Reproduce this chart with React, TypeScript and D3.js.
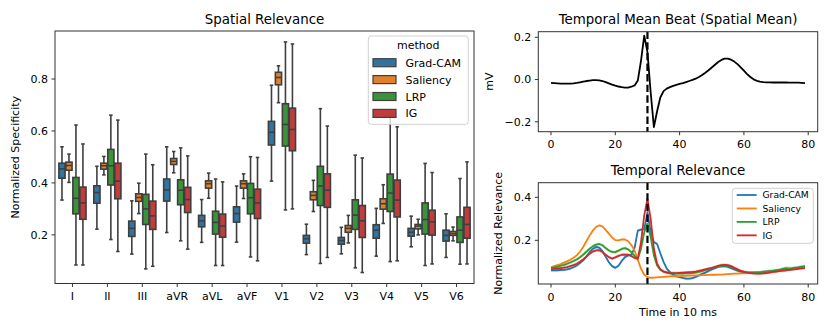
import React from "react";
import * as d3 from "d3";

const leads = ["I", "II", "III", "aVR", "aVL", "aVF", "V1", "V2", "V3", "V4", "V5", "V6"];
const methods = ["Grad-CAM", "Saliency", "LRP", "IG"];

// [whisker low, q1, median, q3, whisker high] per lead
const gradcamStats = [
  [0.334, 0.418, 0.454, 0.476, 0.539],
  [0.222, 0.322, 0.363, 0.389, 0.464],
  [0.126, 0.194, 0.225, 0.253, 0.331],
  [0.209, 0.330, 0.373, 0.415, 0.539],
  [0.171, 0.231, 0.254, 0.275, 0.336],
  [0.172, 0.249, 0.282, 0.308, 0.388],
  [0.407, 0.546, 0.595, 0.637, 0.776],
  [0.124, 0.168, 0.185, 0.198, 0.241],
  [0.127, 0.164, 0.178, 0.190, 0.229],
  [0.118, 0.187, 0.218, 0.239, 0.302],
  [0.154, 0.195, 0.210, 0.225, 0.272],
  [0.113, 0.176, 0.198, 0.218, 0.281],
];
const saliencyStats = [
  [0.402, 0.449, 0.467, 0.480, 0.511],
  [0.431, 0.453, 0.466, 0.476, 0.502],
  [0.282, 0.329, 0.344, 0.358, 0.399],
  [0.439, 0.471, 0.483, 0.494, 0.521],
  [0.341, 0.380, 0.397, 0.408, 0.438],
  [0.340, 0.380, 0.397, 0.408, 0.435],
  [0.709, 0.778, 0.806, 0.826, 0.851],
  [0.290, 0.335, 0.352, 0.366, 0.410],
  [0.169, 0.210, 0.225, 0.236, 0.275],
  [0.244, 0.299, 0.320, 0.339, 0.393],
  [0.200, 0.223, 0.234, 0.240, 0.260],
  [0.177, 0.198, 0.205, 0.213, 0.230],
];
const lrpStats = [
  [0.084, 0.281, 0.341, 0.421, 0.623],
  [0.182, 0.392, 0.466, 0.529, 0.661],
  [0.069, 0.240, 0.300, 0.356, 0.511],
  [0.177, 0.316, 0.372, 0.412, 0.535],
  [0.082, 0.203, 0.248, 0.291, 0.415],
  [0.115, 0.281, 0.343, 0.398, 0.501],
  [0.296, 0.542, 0.625, 0.705, 0.943],
  [0.090, 0.313, 0.388, 0.464, 0.686],
  [0.073, 0.221, 0.276, 0.335, 0.507],
  [0.097, 0.290, 0.361, 0.434, 0.670],
  [0.082, 0.203, 0.259, 0.323, 0.475],
  [0.087, 0.171, 0.218, 0.269, 0.417],
];
const igStats = [
  [0.084, 0.260, 0.323, 0.384, 0.550],
  [0.136, 0.339, 0.407, 0.476, 0.642],
  [0.079, 0.221, 0.273, 0.330, 0.470],
  [0.145, 0.286, 0.336, 0.383, 0.504],
  [0.082, 0.191, 0.234, 0.280, 0.404],
  [0.100, 0.263, 0.323, 0.376, 0.498],
  [0.300, 0.524, 0.606, 0.688, 0.935],
  [0.113, 0.306, 0.372, 0.435, 0.619],
  [0.055, 0.190, 0.254, 0.313, 0.496],
  [0.100, 0.269, 0.334, 0.411, 0.616],
  [0.088, 0.199, 0.250, 0.295, 0.440],
  [0.088, 0.187, 0.240, 0.306, 0.481],
];
const spatialTicks = [0.2, 0.4, 0.6, 0.8];

// Mean beat (mV), one sample per 10 ms
const meanBeat = [
  -0.016, -0.017, -0.018, -0.019, -0.019, -0.019, -0.019, -0.018, -0.016, -0.013,
  -0.010, -0.007, -0.005, -0.003, -0.003, -0.004, -0.007, -0.012, -0.018, -0.024,
  -0.029, -0.033, -0.036, -0.038, -0.038, -0.034, -0.028, -0.005, 0.090, 0.208,
  0.130, -0.060, -0.225, -0.150, -0.085, -0.055, -0.043, -0.036, -0.030, -0.025,
  -0.021, -0.017, -0.012, -0.007, -0.002, 0.004, 0.012, 0.021, 0.032, 0.044,
  0.057, 0.070, 0.083, 0.093, 0.099, 0.099, 0.094, 0.085, 0.073, 0.058,
  0.042, 0.026, 0.012, 0.001, -0.006, -0.010, -0.012, -0.013, -0.013, -0.014,
  -0.014, -0.014, -0.014, -0.014, -0.015, -0.015, -0.015, -0.015, -0.016, -0.017,
];

const gradcamTemporal = [
  0.060, 0.060, 0.061, 0.062, 0.063, 0.065, 0.069, 0.075, 0.083, 0.094,
  0.107, 0.125, 0.145, 0.160, 0.169, 0.166, 0.150, 0.124, 0.098, 0.080,
  0.072, 0.082, 0.104, 0.122, 0.130, 0.134, 0.165, 0.245, 0.250, 0.252,
  0.330, 0.238, 0.192, 0.183, 0.140, 0.100, 0.068, 0.052, 0.040, 0.033,
  0.029, 0.025, 0.022, 0.022, 0.024, 0.030, 0.037, 0.044, 0.050, 0.058,
  0.065, 0.071, 0.077, 0.079, 0.080, 0.077, 0.071, 0.065, 0.059, 0.054,
  0.051, 0.050, 0.050, 0.050, 0.051, 0.052, 0.054, 0.055, 0.057, 0.058,
  0.060, 0.061, 0.062, 0.063, 0.064, 0.065, 0.067, 0.070, 0.073, 0.076,
];
const saliencyTemporal = [
  0.076, 0.080, 0.085, 0.090, 0.096, 0.102, 0.110, 0.119, 0.130, 0.147,
  0.169, 0.196, 0.223, 0.245, 0.262, 0.270, 0.265, 0.249, 0.231, 0.213,
  0.201, 0.200, 0.204, 0.204, 0.196, 0.178, 0.153, 0.110, 0.068, 0.040,
  0.029, 0.026, 0.027, 0.028, 0.029, 0.030, 0.031, 0.032, 0.033, 0.033,
  0.034, 0.035, 0.035, 0.036, 0.036, 0.037, 0.037, 0.038, 0.038, 0.039,
  0.040, 0.040, 0.041, 0.041, 0.042, 0.043, 0.044, 0.045, 0.045, 0.046,
  0.047, 0.048, 0.049, 0.050, 0.051, 0.052, 0.053, 0.054, 0.055, 0.055,
  0.056, 0.058, 0.059, 0.061, 0.063, 0.066, 0.069, 0.072, 0.075, 0.078,
];
const lrpTemporal = [
  0.071, 0.074, 0.078, 0.082, 0.086, 0.091, 0.097, 0.104, 0.111, 0.121,
  0.133, 0.147, 0.161, 0.172, 0.180, 0.183, 0.177, 0.164, 0.153, 0.146,
  0.145, 0.152, 0.160, 0.164, 0.158, 0.145, 0.128, 0.115, 0.160, 0.238,
  0.278, 0.215, 0.130, 0.083, 0.063, 0.055, 0.050, 0.047, 0.046, 0.045,
  0.045, 0.045, 0.046, 0.047, 0.048, 0.050, 0.053, 0.057, 0.062, 0.067,
  0.071, 0.075, 0.079, 0.082, 0.083, 0.081, 0.076, 0.069, 0.062, 0.057,
  0.053, 0.051, 0.050, 0.050, 0.050, 0.050, 0.052, 0.054, 0.056, 0.058,
  0.060, 0.063, 0.067, 0.071, 0.070, 0.071, 0.073, 0.075, 0.078, 0.080,
];
const igTemporal = [
  0.065, 0.067, 0.069, 0.071, 0.073, 0.076, 0.080, 0.085, 0.091, 0.100,
  0.111, 0.124, 0.138, 0.148, 0.153, 0.154, 0.146, 0.133, 0.122, 0.115,
  0.121, 0.128, 0.133, 0.134, 0.133, 0.127, 0.118, 0.114, 0.192, 0.316,
  0.393, 0.300, 0.161, 0.091, 0.065, 0.055, 0.051, 0.049, 0.048, 0.048,
  0.049, 0.050, 0.051, 0.052, 0.053, 0.055, 0.058, 0.061, 0.065, 0.068,
  0.071, 0.076, 0.081, 0.085, 0.086, 0.085, 0.080, 0.072, 0.065, 0.058,
  0.053, 0.050, 0.048, 0.046, 0.045, 0.045, 0.046, 0.048, 0.050, 0.053,
  0.055, 0.057, 0.059, 0.061, 0.063, 0.065, 0.066, 0.068, 0.070, 0.071,
];
const temporalCI = [0.007, 0.004, 0.008, 0.007];
const rPeakIndex = 30;
const timeTicks = [0, 20, 40, 60, 80];
const beatTicks = [-0.2, 0.0, 0.2];
const relevanceTicks = [0.2, 0.4];

const boxColors = ["#3274a1", "#e1812c", "#3a923a", "#c03d3e"];
const lineColors = ["#1f77b4", "#ff7f0e", "#2ca02c", "#d62728"];
const EDGE = "#3f3f3f";
const SPINE = "#333";
const FONT = "DejaVu Sans, sans-serif";

const fmt1 = (v: number) => (v < 0 ? "\u2212" + Math.abs(v).toFixed(1) : v.toFixed(1));

export default function App() {
  const allStats = [gradcamStats, saliencyStats, lrpStats, igStats];
  const temporal = [gradcamTemporal, saliencyTemporal, lrpTemporal, igTemporal];

  // Left panel
  const L = { x0: 55, x1: 474, y0: 31, y1: 283.5 };
  const xb = d3.scaleBand<string>().domain(leads).range([L.x0, L.x1]).padding(0);
  const ys = d3.scaleLinear().domain([0.0127, 0.985]).range([L.y1, L.y0]);
  const bw = xb.bandwidth();
  const boxW = bw * 0.2;

  // Right panels
  const R = { x0: 538.3, x1: 817.7 };
  const T = { y0: 31.7, y1: 131.7 };
  const B = { y0: 182.7, y1: 284 };
  const xt = d3.scaleLinear().domain([-3.95, 82.95]).range([R.x0, R.x1]);
  const yBeat = d3.scaleLinear().domain([-0.247, 0.2265]).range([T.y1, T.y0]);
  const yRel = d3.scaleLinear().domain([-0.003, 0.468]).range([B.y1, B.y0]);

  const beatLine = d3
    .line<number>()
    .x((_, i) => xt(i))
    .y((d) => yBeat(d))(meanBeat) as string;

  return (
    <svg
      width={830}
      height={332}
      style={{ position: "absolute", left: 0, top: 0, background: "#fff" }}
      fontFamily={FONT}
    >
      <rect width={830} height={332} fill="#fff" />
      {/* ===== Left: Spatial Relevance ===== */}
      <text x={(L.x0 + L.x1) / 2} y={24} textAnchor="middle" fontSize={13.4} fill="#000">
        Spatial Relevance
      </text>
      {spatialTicks.map((t) => (
        <g key={t}>
          <line x1={L.x0 - 3.5} x2={L.x0} y1={ys(t)} y2={ys(t)} stroke={SPINE} strokeWidth={1} />
          <text x={L.x0 - 7} y={ys(t) + 3.9} textAnchor="end" fontSize={11} fill="#000">
            {t.toFixed(1)}
          </text>
        </g>
      ))}
      <text
        transform={`translate(${18.5},${(L.y0 + L.y1) / 2}) rotate(-90)`}
        textAnchor="middle"
        fontSize={11}
        fill="#000"
      >
        Normalized Specificity
      </text>
      {leads.map((ld) => {
        const cx = (xb(ld) as number) + bw / 2;
        return (
          <g key={ld}>
            <line x1={cx} x2={cx} y1={L.y1} y2={L.y1 + 3.5} stroke={SPINE} strokeWidth={1} />
            <text x={cx} y={L.y1 + 16.5} textAnchor="middle" fontSize={11} fill="#000">
              {ld}
            </text>
          </g>
        );
      })}
      {allStats.map((stats, m) =>
        leads.map((ld, li) => {
          const [lo, q1, med, q3, hi] = stats[li];
          const cx = (xb(ld) as number) + bw / 2 + (m - 1.5) * boxW;
          const capW = boxW * 0.5;
          return (
            <g key={m + "-" + ld}>
              <line x1={cx} x2={cx} y1={ys(hi)} y2={ys(q3)} stroke={EDGE} strokeWidth={1.6} />
              <line x1={cx} x2={cx} y1={ys(q1)} y2={ys(lo)} stroke={EDGE} strokeWidth={1.6} />
              <line x1={cx - capW / 2} x2={cx + capW / 2} y1={ys(hi)} y2={ys(hi)} stroke={EDGE} strokeWidth={1.6} />
              <line x1={cx - capW / 2} x2={cx + capW / 2} y1={ys(lo)} y2={ys(lo)} stroke={EDGE} strokeWidth={1.6} />
              <rect
                x={cx - boxW / 2 + 0.4}
                y={ys(q3)}
                width={boxW - 0.8}
                height={ys(q1) - ys(q3)}
                fill={boxColors[m]}
                stroke={EDGE}
                strokeWidth={1.6}
              />
              <line
                x1={cx - boxW / 2 + 0.4}
                x2={cx + boxW / 2 - 0.4}
                y1={ys(med)}
                y2={ys(med)}
                stroke={EDGE}
                strokeWidth={1.6}
              />
            </g>
          );
        })
      )}
      <rect x={L.x0} y={L.y0} width={L.x1 - L.x0} height={L.y1 - L.y0} fill="none" stroke={SPINE} strokeWidth={1} />
      {/* left legend */}
      <g>
        <rect x={368.3} y={36} width={100} height={88.3} rx={3} fill="#fff" fillOpacity={0.8} stroke="#d0d0d0" strokeWidth={1} />
        <text x={418.3} y={49.3} textAnchor="middle" fontSize={11} fill="#000">
          method
        </text>
        {methods.map((mname, i) => {
          const cy = 62.7 + i * 16.9;
          return (
            <g key={mname}>
              <rect x={373} y={cy - 4} width={23} height={8} fill={boxColors[i]} stroke={EDGE} strokeWidth={1.2} />
              <text x={405.5} y={cy + 4} fontSize={11} fill="#000">
                {mname}
              </text>
            </g>
          );
        })}
      </g>

      {/* ===== Top right: mean beat ===== */}
      <text x={(R.x0 + R.x1) / 2} y={24} textAnchor="middle" fontSize={13.4} fill="#000">
        Temporal Mean Beat (Spatial Mean)
      </text>
      {beatTicks.map((t) => (
        <g key={t}>
          <line x1={R.x0 - 3.5} x2={R.x0} y1={yBeat(t)} y2={yBeat(t)} stroke={SPINE} strokeWidth={1} />
          <text x={R.x0 - 7} y={yBeat(t) + 3.9} textAnchor="end" fontSize={11} fill="#000">
            {fmt1(t)}
          </text>
        </g>
      ))}
      <text
        transform={`translate(${492.5},${(T.y0 + T.y1) / 2}) rotate(-90)`}
        textAnchor="middle"
        fontSize={11}
        fill="#000"
      >
        mV
      </text>
      {timeTicks.map((t) => (
        <g key={t}>
          <line x1={xt(t)} x2={xt(t)} y1={T.y1} y2={T.y1 + 3.5} stroke={SPINE} strokeWidth={1} />
          <text x={xt(t)} y={T.y1 + 16.5} textAnchor="middle" fontSize={11} fill="#000">
            {t}
          </text>
        </g>
      ))}
      <path d={beatLine} fill="none" stroke="#000" strokeWidth={1.8} strokeLinejoin="round" />
      <line
        x1={xt(rPeakIndex)}
        x2={xt(rPeakIndex)}
        y1={T.y0}
        y2={T.y1}
        stroke="#000"
        strokeWidth={2.2}
        strokeDasharray="7.4 3.2"
      />
      <rect x={R.x0} y={T.y0} width={R.x1 - R.x0} height={T.y1 - T.y0} fill="none" stroke={SPINE} strokeWidth={1} />

      {/* ===== Bottom right: temporal relevance ===== */}
      <text x={(R.x0 + R.x1) / 2} y={175} textAnchor="middle" fontSize={13.4} fill="#000">
        Temporal Relevance
      </text>
      {relevanceTicks.map((t) => (
        <g key={t}>
          <line x1={R.x0 - 3.5} x2={R.x0} y1={yRel(t)} y2={yRel(t)} stroke={SPINE} strokeWidth={1} />
          <text x={R.x0 - 7} y={yRel(t) + 3.9} textAnchor="end" fontSize={11} fill="#000">
            {t.toFixed(1)}
          </text>
        </g>
      ))}
      <text
        transform={`translate(${502},${(B.y0 + B.y1) / 2}) rotate(-90)`}
        textAnchor="middle"
        fontSize={11}
        fill="#000"
      >
        Normalized Relevance
      </text>
      {timeTicks.map((t) => (
        <g key={t}>
          <line x1={xt(t)} x2={xt(t)} y1={B.y1} y2={B.y1 + 3.5} stroke={SPINE} strokeWidth={1} />
          <text x={xt(t)} y={B.y1 + 16.5} textAnchor="middle" fontSize={11} fill="#000">
            {t}
          </text>
        </g>
      ))}
      <text x={(R.x0 + R.x1) / 2} y={316} textAnchor="middle" fontSize={11} fill="#000">
        Time in 10 ms
      </text>
      <defs>
        <clipPath id="relclip">
          <rect x={R.x0} y={B.y0} width={R.x1 - R.x0} height={B.y1 - B.y0} />
        </clipPath>
      </defs>
      <g clipPath="url(#relclip)">
        {temporal.map((series, m) => {
          const area = d3
            .area<number>()
            .x((_, i) => xt(i))
            .y0((d) => yRel(d - temporalCI[m]))
            .y1((d) => yRel(d + temporalCI[m]))(series) as string;
          return <path key={"a" + m} d={area} fill={lineColors[m]} fillOpacity={0.2} stroke="none" />;
        })}
        {temporal.map((series, m) => {
          const ln = d3
            .line<number>()
            .x((_, i) => xt(i))
            .y((d) => yRel(d))(series) as string;
          return (
            <path key={"l" + m} d={ln} fill="none" stroke={lineColors[m]} strokeWidth={1.8} strokeLinejoin="round" />
          );
        })}
      </g>
      <line
        x1={xt(rPeakIndex)}
        x2={xt(rPeakIndex)}
        y1={B.y0}
        y2={B.y1}
        stroke="#000"
        strokeWidth={2.2}
        strokeDasharray="7.4 3.2"
      />
      <rect x={R.x0} y={B.y0} width={R.x1 - R.x0} height={B.y1 - B.y0} fill="none" stroke={SPINE} strokeWidth={1} />
      {/* right legend */}
      <g>
        <rect x={732.3} y={188.3} width={81} height={55} rx={3} fill="#fff" fillOpacity={0.8} stroke="#d0d0d0" strokeWidth={1} />
        {methods.map((mname, i) => {
          const cy = 195 + i * 13.45;
          return (
            <g key={mname}>
              <line x1={736.7} x2={756.7} y1={cy} y2={cy} stroke={lineColors[i]} strokeWidth={1.8} />
              <text x={762.5} y={cy + 3.3} fontSize={9.2} fill="#000">
                {mname}
              </text>
            </g>
          );
        })}
      </g>
    </svg>
  );
}
